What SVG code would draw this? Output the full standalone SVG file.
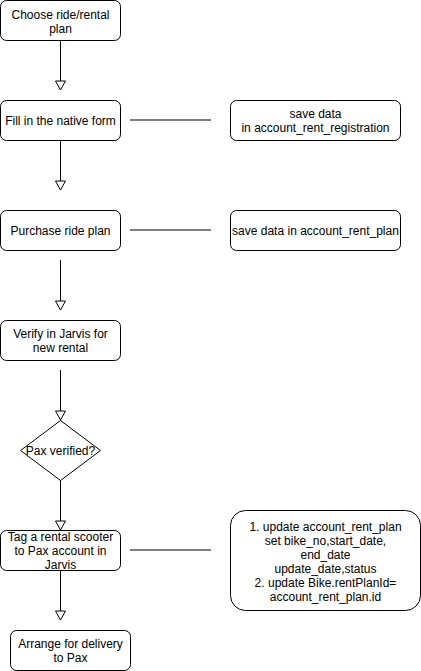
<svg xmlns="http://www.w3.org/2000/svg" width="421" height="671" viewBox="0 0 421 671">
<style>
.box{fill:#fff;stroke:#000;stroke-width:1}
.t{font-family:"Liberation Sans",Arial,sans-serif;font-size:12px;fill:#000;text-anchor:middle}
.c{stroke:#000;stroke-width:1;fill:none}
.h{stroke:#000;stroke-width:1;fill:none}
</style>
<defs>
<marker id="tri" markerUnits="userSpaceOnUse" markerWidth="12" markerHeight="12" viewBox="0 0 12 12" refX="10" refY="6" orient="auto">
<path d="M1,1 L10,6 L1,11 Z" fill="#fff" stroke="#000" stroke-width="1"/>
</marker>
</defs>
<rect width="421" height="671" fill="#fff"/>
<g id="connectors">
<line class="c" x1="60.5" y1="40" x2="60.5" y2="90" marker-end="url(#tri)"/>
<line class="c" x1="60.5" y1="140" x2="60.5" y2="190" marker-end="url(#tri)"/>
<line class="c" x1="60.5" y1="260" x2="60.5" y2="310" marker-end="url(#tri)"/>
<line class="c" x1="60.5" y1="370" x2="60.5" y2="420" marker-end="url(#tri)"/>
<line class="c" x1="60.5" y1="480" x2="60.5" y2="530" marker-end="url(#tri)"/>
<line class="c" x1="60.5" y1="570" x2="60.5" y2="620" marker-end="url(#tri)"/>
<line class="h" x1="130" y1="120" x2="211" y2="120"/>
<line class="h" x1="130" y1="230" x2="211" y2="230"/>
<line class="h" x1="130" y1="550" x2="211" y2="550"/>
</g>
<g id="choose">
<rect class="box" x="0.5" y="0.5" width="120" height="40" rx="6"/>
<text class="t" x="60.5" y="19">Choose ride/rental</text>
<text class="t" x="60.5" y="33">plan</text>
</g>
<g id="fill">
<rect class="box" x="0.5" y="100.5" width="120" height="40" rx="6"/>
<text class="t" x="60.5" y="125">Fill in the native form</text>
</g>
<g id="save-reg">
<rect class="box" x="230.5" y="100.5" width="170" height="40" rx="6"/>
<text class="t" x="315.5" y="118">save data</text>
<text class="t" x="315.5" y="132">in account_rent_registration</text>
</g>
<g id="purchase">
<rect class="box" x="0.5" y="210.5" width="120" height="40" rx="6"/>
<text class="t" x="60.5" y="235">Purchase ride plan</text>
</g>
<g id="save-plan">
<rect class="box" x="230.5" y="210.5" width="170" height="40" rx="6"/>
<text class="t" x="315.5" y="235">save data in account_rent_plan</text>
</g>
<g id="verify">
<rect class="box" x="0.5" y="320.5" width="120" height="40" rx="6"/>
<text class="t" x="60.5" y="338">Verify in Jarvis for</text>
<text class="t" x="60.5" y="352">new rental</text>
</g>
<g id="decision">
<polygon class="box" points="60.5,420.5 100.5,450.5 60.5,480.5 20.5,450.5"/>
<text class="t" x="60.5" y="455">Pax verified?</text>
</g>
<g id="tag">
<rect class="box" x="0.5" y="530.5" width="120" height="40" rx="6"/>
<text class="t" x="60.5" y="541">Tag a rental scooter</text>
<text class="t" x="60.5" y="555">to Pax account in</text>
<text class="t" x="60.5" y="569">Jarvis</text>
</g>
<g id="update">
<rect class="box" x="230.5" y="510.5" width="190" height="100" rx="15"/>
<text class="t" x="325.5" y="531">1. update account_rent_plan</text>
<text class="t" x="325.5" y="545">set bike_no,start_date,</text>
<text class="t" x="325.5" y="559">end_date</text>
<text class="t" x="325.5" y="573">update_date,status</text>
<text class="t" x="325.5" y="587">2. update Bike.rentPlanId=</text>
<text class="t" x="325.5" y="601">account_rent_plan.id</text>
</g>
<g id="arrange">
<rect class="box" x="10.5" y="630.5" width="120" height="40" rx="6"/>
<text class="t" x="70.5" y="648">Arrange for delivery</text>
<text class="t" x="70.5" y="662">to Pax</text>
</g>
</svg>
